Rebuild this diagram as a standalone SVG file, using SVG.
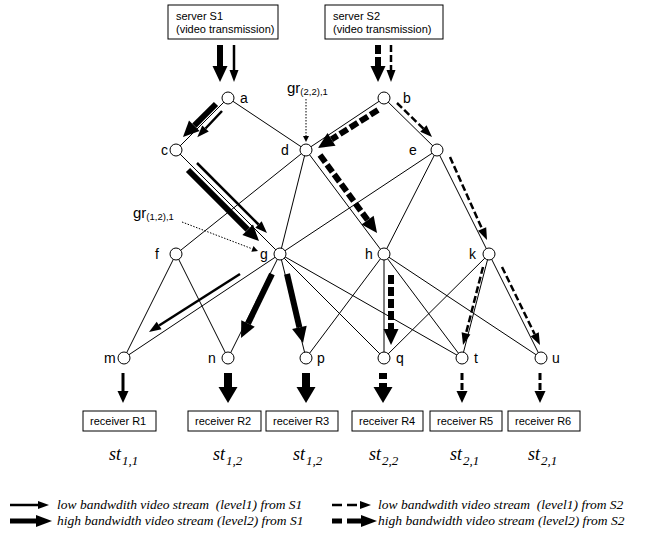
<svg xmlns="http://www.w3.org/2000/svg" width="650" height="536" viewBox="0 0 650 536">
<style>
.edge{stroke:#000;stroke-width:1;fill:none}
.node circle{fill:#fff;stroke:#000;stroke-width:1}
.lbl{font-family:"Liberation Sans",Arial,sans-serif;font-size:14px;fill:#000}
.box rect{fill:#fff;stroke:#000;stroke-width:1}
.box text{font-family:"Liberation Sans",Arial,sans-serif;font-size:11px;fill:#000}
.aT{stroke:#000;stroke-width:6;fill:none;marker-end:url(#hT)}
.at{stroke:#000;stroke-width:2.5;fill:none;marker-end:url(#ht)}
.bT{stroke:#000;stroke-width:8;fill:none;marker-end:url(#hB)}
.bt{stroke:#000;stroke-width:3;fill:none;marker-end:url(#hb)}
.dT{stroke-dasharray:9 3}
.dt{stroke-dasharray:7 3}
.dot{stroke:#000;stroke-width:1;fill:none;stroke-dasharray:1.5 1.5;marker-end:url(#hd)}
.gr{font-family:"Liberation Sans",Arial,sans-serif;font-size:15px}
.grs{font-size:9.5px}
.st{font-family:"Liberation Serif","Times New Roman",serif;font-style:italic;font-size:18px}
.sub{font-size:13px}
.leg{font-family:"Liberation Serif","Times New Roman",serif;font-style:italic;font-size:13.5px}
</style>
<defs>
<marker id="hT" markerUnits="userSpaceOnUse" orient="auto" refX="0" refY="0" markerWidth="20" markerHeight="20" overflow="visible"><path d="M0,-7.5L16,0L0,7.5z"/></marker>
<marker id="ht" markerUnits="userSpaceOnUse" orient="auto" refX="0" refY="0" markerWidth="20" markerHeight="20" overflow="visible"><path d="M0,-4.5L12,0L0,4.5z"/></marker>
<marker id="hB" markerUnits="userSpaceOnUse" orient="auto" refX="0" refY="0" markerWidth="20" markerHeight="20" overflow="visible"><path d="M0,-9.5L16,0L0,9.5z"/></marker>
<marker id="hb" markerUnits="userSpaceOnUse" orient="auto" refX="0" refY="0" markerWidth="20" markerHeight="20" overflow="visible"><path d="M0,-5.5L12,0L0,5.5z"/></marker>
<marker id="hd" markerUnits="userSpaceOnUse" orient="auto" refX="0" refY="0" markerWidth="10" markerHeight="10" overflow="visible"><path d="M0,-3L6,0L0,3z"/></marker>
<marker id="hL1" markerUnits="userSpaceOnUse" orient="auto" refX="0" refY="0" markerWidth="20" markerHeight="20" overflow="visible"><path d="M0,-4L11,0L0,4z"/></marker>
<marker id="hL2" markerUnits="userSpaceOnUse" orient="auto" refX="0" refY="0" markerWidth="20" markerHeight="20" overflow="visible"><path d="M0,-6L16,0L0,6z"/></marker>
</defs>

<g id="connectors">
<g id="edges" class="edge">
<path d="M228,98L176,150"/>
<path d="M228,98L306,150"/>
<path d="M384,98L306,150"/>
<path d="M384,98L437,150"/>
<path d="M176,150L280,254"/>
<path d="M306,150L176,254"/>
<path d="M306,150L280,254"/>
<path d="M306,150L384,254"/>
<path d="M437,150L280,254"/>
<path d="M437,150L384,254"/>
<path d="M437,150L489,254"/>
<path d="M176,254L124,358"/>
<path d="M176,254L228,358"/>
<path d="M280,254L124,358"/>
<path d="M280,254L228,358"/>
<path d="M280,254L306,358"/>
<path d="M280,254L384,358"/>
<path d="M280,254L462,358"/>
<path d="M384,254L306,358"/>
<path d="M384,254L384,358"/>
<path d="M384,254L462,358"/>
<path d="M384,254L541,358"/>
<path d="M489,254L384,358"/>
<path d="M489,254L462,358"/>
<path d="M489,254L541,358"/>
</g>
<g id="streams">
<path class="aT" d="M220,45V66"/>
<path class="at" d="M234,45V70"/>
<path class="aT dT" d="M378,45V66"/>
<path class="at dt" d="M391,45V70"/>
<path class="aT" d="M216,104L194.3,125.7"/>
<path class="at" d="M222,111L205.5,128.5"/>
<path class="aT" d="M188,170L247.7,229.7"/>
<path class="at" d="M197,163L258.5,224.5"/>
<path class="at" d="M240,274L159.1,325.5"/>
<path class="aT" d="M272,274L248,323.6"/>
<path class="aT" d="M287,274L299.4,327.4"/>
<path class="aT dT" d="M378,110L331.5,139.4"/>
<path class="at dt" d="M397,103L423.4,128.6"/>
<path class="aT dT" d="M320,155L367.6,220.1"/>
<path class="at dt" d="M450,157L482.1,229"/>
<path class="aT dT" d="M391,275V329"/>
<path class="at dt" d="M483,267L466,333.4"/>
<path class="at dt" d="M502,267L534.7,334.2"/>
<path class="bt" d="M123,373V391"/>
<path class="bT" d="M228,373V387"/>
<path class="bT" d="M306,373V387"/>
<path class="bT" style="stroke-dasharray:6 4" d="M383,373V387"/>
<path class="bt" style="stroke-dasharray:7 3" d="M462,373V391"/>
<path class="bt" style="stroke-dasharray:7 3" d="M540,373V391"/>
<path class="dot" d="M306,99V136"/>
<path class="dot" d="M182,222L252.4,248.9"/>
</g>
</g>

<g id="server-S1" class="box"><rect x="168" y="5" width="110" height="34"/><text x="176" y="20">server S1</text><text x="176" y="33">(video transmission)</text></g>
<g id="server-S2" class="box"><rect x="325" y="5" width="118" height="34"/><text x="333" y="20">server S2</text><text x="333" y="33">(video transmission)</text></g>

<g id="node-a" class="node"><circle cx="228" cy="98" r="6"/><text class="lbl" x="240" y="103">a</text></g>
<g id="node-b" class="node"><circle cx="384" cy="98" r="6"/><text class="lbl" x="403" y="103">b</text></g>
<g id="node-c" class="node"><circle cx="176" cy="150" r="6"/><text class="lbl" x="161" y="155">c</text></g>
<g id="node-d" class="node"><circle cx="306" cy="150" r="6"/><text class="lbl" x="281" y="155">d</text></g>
<g id="node-e" class="node"><circle cx="437" cy="150" r="6"/><text class="lbl" x="409" y="155">e</text></g>
<g id="node-f" class="node"><circle cx="176" cy="254" r="6"/><text class="lbl" x="155" y="259">f</text></g>
<g id="node-g" class="node"><circle cx="280" cy="254" r="6"/><text class="lbl" x="260" y="259">g</text></g>
<g id="node-h" class="node"><circle cx="384" cy="254" r="6"/><text class="lbl" x="365" y="259">h</text></g>
<g id="node-k" class="node"><circle cx="489" cy="254" r="6"/><text class="lbl" x="469" y="259">k</text></g>
<g id="node-m" class="node"><circle cx="124" cy="358" r="6"/><text class="lbl" x="104" y="363">m</text></g>
<g id="node-n" class="node"><circle cx="228" cy="358" r="6"/><text class="lbl" x="208" y="363">n</text></g>
<g id="node-p" class="node"><circle cx="306" cy="358" r="6"/><text class="lbl" x="317" y="363">p</text></g>
<g id="node-q" class="node"><circle cx="384" cy="358" r="6"/><text class="lbl" x="396" y="363">q</text></g>
<g id="node-t" class="node"><circle cx="462" cy="358" r="6"/><text class="lbl" x="474" y="363">t</text></g>
<g id="node-u" class="node"><circle cx="541" cy="358" r="6"/><text class="lbl" x="552" y="363">u</text></g>

<g id="label-gr22"><text class="gr" x="287" y="93">gr<tspan class="grs" dy="2">(2,2),1</tspan></text></g>
<g id="label-gr12"><text class="gr" x="133" y="218">gr<tspan class="grs" dy="2">(1,2),1</tspan></text></g>

<g id="receiver-R1" class="box"><rect x="83" y="411" width="73" height="20"/><text x="90" y="425">receiver R1</text></g>
<g id="receiver-R2" class="box"><rect x="188" y="411" width="73" height="20"/><text x="195" y="425">receiver R2</text></g>
<g id="receiver-R3" class="box"><rect x="266" y="411" width="72" height="20"/><text x="273" y="425">receiver R3</text></g>
<g id="receiver-R4" class="box"><rect x="352" y="411" width="71" height="20"/><text x="359" y="425">receiver R4</text></g>
<g id="receiver-R5" class="box"><rect x="430" y="411" width="72" height="20"/><text x="437" y="425">receiver R5</text></g>
<g id="receiver-R6" class="box"><rect x="508" y="411" width="72" height="20"/><text x="515" y="425">receiver R6</text></g>

<g id="stream-labels">
<text class="st" x="109" y="460">st<tspan class="sub" dx="1" dy="5">1,1</tspan></text>
<text class="st" x="213" y="460">st<tspan class="sub" dx="1" dy="5">1,2</tspan></text>
<text class="st" x="293" y="460">st<tspan class="sub" dx="1" dy="5">1,2</tspan></text>
<text class="st" x="369" y="460">st<tspan class="sub" dx="1" dy="5">2,2</tspan></text>
<text class="st" x="450" y="460">st<tspan class="sub" dx="1" dy="5">2,1</tspan></text>
<text class="st" x="528" y="460">st<tspan class="sub" dx="1" dy="5">2,1</tspan></text>
</g>

<g id="legend">
<path d="M10,505H38" stroke="#000" stroke-width="2.5" fill="none" marker-end="url(#hL1)"/>
<path d="M10,521H36" stroke="#000" stroke-width="5" fill="none" marker-end="url(#hL2)"/>
<path d="M332,505H360" stroke="#000" stroke-width="2.5" fill="none" stroke-dasharray="10 5" marker-end="url(#hL1)"/>
<path d="M332,521H361" stroke="#000" stroke-width="5" fill="none" stroke-dasharray="10 5 100" marker-end="url(#hL2)"/>
<text class="leg" x="57" y="509" xml:space="preserve">low bandwdith video stream  (level1) from S1</text>
<text class="leg" x="57" y="525">high bandwidth video stream (level2) from S1</text>
<text class="leg" x="378" y="509" xml:space="preserve">low bandwdith video stream  (level1) from S2</text>
<text class="leg" x="378" y="525">high bandwidth video stream (level2) from S2</text>
</g>
</svg>
